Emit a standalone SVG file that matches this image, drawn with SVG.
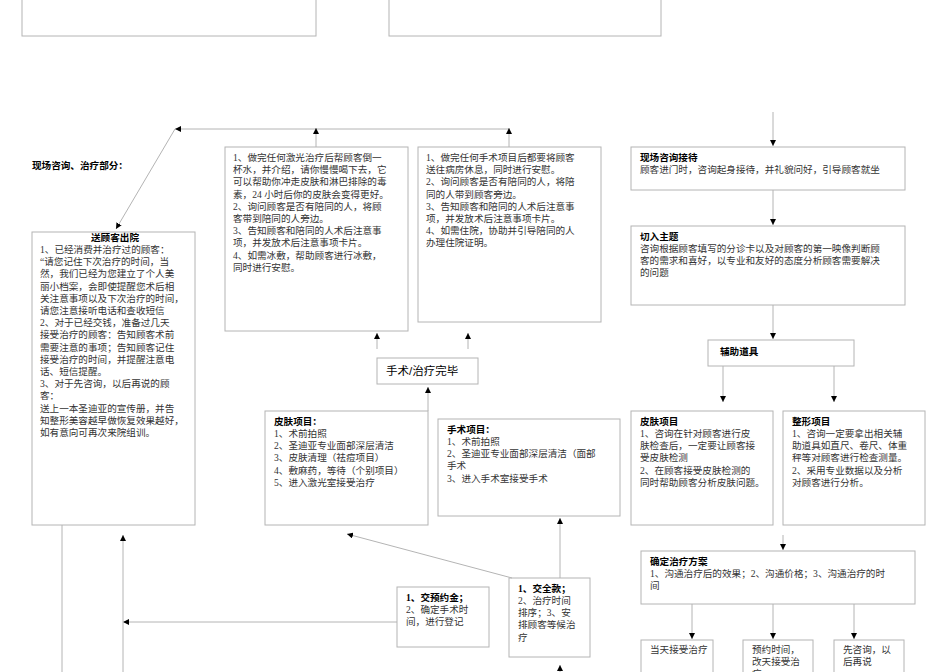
<svg xmlns="http://www.w3.org/2000/svg" width="950" height="672" viewBox="0 0 950 672">
<style>
.b{fill:#fff;stroke:#b4b4b4;stroke-width:1}
.t{font-family:"Liberation Serif","Noto Sans CJK SC",serif;font-size:9.6px;fill:#333}
.h{font-family:"Liberation Sans","Noto Sans CJK SC",sans-serif;font-size:9.6px;font-weight:bold;fill:#000}
.c line,.c polyline{stroke:#b4b4b4;stroke-width:1;fill:none}
</style>
<defs>
<marker id="a" viewBox="0 0 10 10" refX="10" refY="5" markerWidth="6" markerHeight="6" orient="auto"><path d="M0,0L10,5L0,10z" fill="#000"/></marker>
</defs>
<rect width="950" height="672" fill="#fff"/>
<g id="top1"><rect class="b" x="22" y="-5" width="294" height="41"/></g>
<g id="top2"><rect class="b" x="389" y="-5" width="272" height="41"/></g>
<g id="title"><text class="h" x="32" y="169">现场咨询、治疗部分：</text></g>
<g id="out"><rect class="b" x="32" y="232" width="163" height="293"/>
<text class="h" x="115" y="241" text-anchor="middle">送顾客出院</text>
<text class="t" x="40" y="253"><tspan x="40">1、已经消费并治疗过的顾客：</tspan><tspan x="40" dy="12.2">“请您记住下次治疗的时间，当</tspan><tspan x="40" dy="12.2">然，我们已经为您建立了个人美</tspan><tspan x="40" dy="12.2">丽小档案，会即使提醒您术后相</tspan><tspan x="40" dy="12.2">关注意事项以及下次治疗的时间，</tspan><tspan x="40" dy="12.2">请您注意接听电话和查收短信</tspan><tspan x="40" dy="12.2">2、对于已经交钱，准备过几天</tspan><tspan x="40" dy="12.2">接受治疗的顾客：告知顾客术前</tspan><tspan x="40" dy="12.2">需要注意的事项；告知顾客记住</tspan><tspan x="40" dy="12.2">接受治疗的时间，并提醒注意电</tspan><tspan x="40" dy="12.2">话、短信提醒。</tspan><tspan x="40" dy="12.2">3、对于先咨询，以后再说的顾</tspan><tspan x="40" dy="12.2">客：</tspan><tspan x="40" dy="12.2">送上一本圣迪亚的宣传册，并告</tspan><tspan x="40" dy="12.2">知整形美容越早做恢复效果越好，</tspan><tspan x="40" dy="12.2">如有意向可再次来院组训。</tspan></text></g>
<g id="laser"><rect class="b" x="225" y="147" width="183" height="184"/>
<text class="t" x="233" y="161"><tspan x="233">1、做完任何激光治疗后帮顾客倒一</tspan><tspan x="233" dy="12.2">杯水，并介绍，请你慢慢喝下去，它</tspan><tspan x="233" dy="12.2">可以帮助你冲走皮肤和淋巴排除的毒</tspan><tspan x="233" dy="12.2">素，24 小时后你的皮肤会变得更好。</tspan><tspan x="233" dy="12.2">2、询问顾客是否有陪同的人，将顾</tspan><tspan x="233" dy="12.2">客带到陪同的人旁边。</tspan><tspan x="233" dy="12.2">3、告知顾客和陪同的人术后注意事</tspan><tspan x="233" dy="12.2">项，并发放术后注意事项卡片。</tspan><tspan x="233" dy="12.2">4、如需冰敷，帮助顾客进行冰敷，</tspan><tspan x="233" dy="12.2">同时进行安慰。</tspan></text></g>
<g id="surg"><rect class="b" x="418" y="147" width="183" height="175"/>
<text class="t" x="426" y="161"><tspan x="426">1、做完任何手术项目后都要将顾客</tspan><tspan x="426" dy="12.2">送往病房休息，同时进行安慰。</tspan><tspan x="426" dy="12.2">2、询问顾客是否有陪同的人，将陪</tspan><tspan x="426" dy="12.2">同的人带到顾客旁边。</tspan><tspan x="426" dy="12.2">3、告知顾客和陪同的人术后注意事</tspan><tspan x="426" dy="12.2">项，并发放术后注意事项卡片。</tspan><tspan x="426" dy="12.2">4、如需住院，协助并引导陪同的人</tspan><tspan x="426" dy="12.2">办理住院证明。</tspan></text></g>
<g id="done"><rect class="b" x="377" y="358" width="101" height="26"/>
<text x="386" y="375" style="font-family:'Liberation Sans','Noto Sans CJK SC',sans-serif;font-size:11.5px;fill:#000">手术/治疗完毕</text></g>
<g id="skin1"><rect class="b" x="265" y="411" width="163" height="114"/>
<text class="h" x="274" y="425">皮肤项目：</text>
<text class="t" x="274" y="437"><tspan x="274">1、术前拍照</tspan><tspan x="274" dy="12.2">2、圣迪亚专业面部深层清洁</tspan><tspan x="274" dy="12.2">3、皮肤清理（祛痘项目）</tspan><tspan x="274" dy="12.2">4、敷麻药，等待（个别项目）</tspan><tspan x="274" dy="12.2">5、进入激光室接受治疗</tspan></text></g>
<g id="surg1"><rect class="b" x="438" y="419" width="182" height="97"/>
<text class="h" x="447" y="433">手术项目：</text>
<text class="t" x="447" y="445"><tspan x="447">1、术前拍照</tspan><tspan x="447" dy="12.2">2、圣迪亚专业面部深层清洁（面部</tspan><tspan x="447" dy="12.2">手术</tspan><tspan x="447" dy="12.2">3、进入手术室接受手术</tspan></text></g>
<g id="dep"><rect class="b" x="397" y="587" width="92" height="60"/>
<text class="h" x="406" y="601" style="font-family:'Liberation Serif','Noto Sans CJK SC',serif">1、交预约金；</text>
<text class="t" x="406" y="613"><tspan x="406">2、确定手术时</tspan><tspan x="406" dy="12.2">间，进行登记</tspan></text></g>
<g id="full"><rect class="b" x="509" y="578" width="81" height="79"/>
<text class="h" x="518" y="592" style="font-family:'Liberation Serif','Noto Sans CJK SC',serif">1、交全款；</text>
<text class="t" x="518" y="604"><tspan x="518">2、治疗时间</tspan><tspan x="518" dy="12.2">排序；3、安</tspan><tspan x="518" dy="12.2">排顾客等候治</tspan><tspan x="518" dy="12.2">疗</tspan></text></g>
<g id="recv"><rect class="b" x="631" y="147" width="274" height="43"/>
<text class="h" x="640" y="161">现场咨询接待</text>
<text class="t" x="640" y="173">顾客进门时，咨询起身接待，并礼貌问好，引导顾客就坐</text></g>
<g id="topic"><rect class="b" x="631" y="226" width="274" height="79"/>
<text class="h" x="640" y="240">切入主题</text>
<text class="t" x="640" y="252"><tspan x="640">咨询根据顾客填写的分诊卡以及对顾客的第一映像判断顾</tspan><tspan x="640" dy="12.2">客的需求和喜好，以专业和友好的态度分析顾客需要解决</tspan><tspan x="640" dy="12.2">的问题</tspan></text></g>
<g id="aid"><rect class="b" x="708" y="340" width="146" height="26"/>
<text class="h" x="720" y="355">辅助道具</text></g>
<g id="skin2"><rect class="b" x="631" y="411" width="142" height="114"/>
<text class="h" x="640" y="425">皮肤项目</text>
<text class="t" x="640" y="437"><tspan x="640">1、咨询在针对顾客进行皮</tspan><tspan x="640" dy="12.2">肤检查后，一定要让顾客接</tspan><tspan x="640" dy="12.2">受皮肤检测</tspan><tspan x="640" dy="12.2">2、在顾客接受皮肤检测的</tspan><tspan x="640" dy="12.2">同时帮助顾客分析皮肤问题。</tspan></text></g>
<g id="plast"><rect class="b" x="783" y="411" width="142" height="114"/>
<text class="h" x="792" y="425">整形项目</text>
<text class="t" x="792" y="437"><tspan x="792">1、咨询一定要拿出相关辅</tspan><tspan x="792" dy="12.2">助道具如直尺、卷尺、体重</tspan><tspan x="792" dy="12.2">秤等对顾客进行检查测量。</tspan><tspan x="792" dy="12.2">2、采用专业数据以及分析</tspan><tspan x="792" dy="12.2">对顾客进行分析。</tspan></text></g>
<g id="plan"><rect class="b" x="641" y="551" width="274" height="53"/>
<text class="h" x="650" y="565">确定治疗方案</text>
<text class="t" x="650" y="577"><tspan x="650">1、沟通治疗后的效果；2、沟通价格；3、沟通治疗的时</tspan><tspan x="650" dy="12.2">间</tspan></text></g>
<g id="o1"><rect class="b" x="641" y="640" width="72" height="40"/><text class="t" x="650" y="653">当天接受治疗</text></g>
<g id="o2"><rect class="b" x="743" y="640" width="70" height="40"/><text class="t" x="752" y="653"><tspan x="752">预约时间，</tspan><tspan x="752" dy="12.2">改天接受治</tspan><tspan x="752" dy="12.2">疗</tspan></text></g>
<g id="o3"><rect class="b" x="834" y="640" width="70" height="40"/><text class="t" x="843" y="653"><tspan x="843">先咨询，以</tspan><tspan x="843" dy="12.2">后再说</tspan></text></g>
<g class="c" id="connectors">
<line x1="509" y1="129" x2="175" y2="129" marker-end="url(#a)"/>
<line x1="175" y1="129" x2="116" y2="229" marker-end="url(#a)"/>
<line x1="316" y1="147" x2="316" y2="128" marker-end="url(#a)"/>
<line x1="509" y1="147" x2="509" y2="128" marker-end="url(#a)"/>
<line x1="377" y1="349" x2="377" y2="333" marker-end="url(#a)"/>
<line x1="468" y1="349" x2="468" y2="333" marker-end="url(#a)"/>
<line x1="428" y1="411" x2="428" y2="387" marker-end="url(#a)"/>
<line x1="560" y1="578" x2="560" y2="518" marker-end="url(#a)"/>
<line x1="512" y1="578" x2="347" y2="534" marker-end="url(#a)"/>
<line x1="397" y1="622" x2="123" y2="622" marker-end="url(#a)"/>
<line x1="123" y1="672" x2="123" y2="535" marker-end="url(#a)"/>
<line x1="62" y1="525" x2="62" y2="672"/>
<line x1="560" y1="680" x2="560" y2="665" marker-end="url(#a)"/>
<line x1="773" y1="112" x2="773" y2="146" marker-end="url(#a)"/>
<line x1="773" y1="190" x2="773" y2="225" marker-end="url(#a)"/>
<line x1="773" y1="305" x2="773" y2="339" marker-end="url(#a)"/>
<line x1="723" y1="366" x2="723" y2="402" marker-end="url(#a)"/>
<line x1="834" y1="366" x2="834" y2="402" marker-end="url(#a)"/>
<line x1="783" y1="535" x2="783" y2="550" marker-end="url(#a)"/>
<line x1="692" y1="604" x2="692" y2="639" marker-end="url(#a)"/>
<line x1="773" y1="604" x2="773" y2="639" marker-end="url(#a)"/>
<line x1="854" y1="604" x2="854" y2="639" marker-end="url(#a)"/>
</g>
</svg>
